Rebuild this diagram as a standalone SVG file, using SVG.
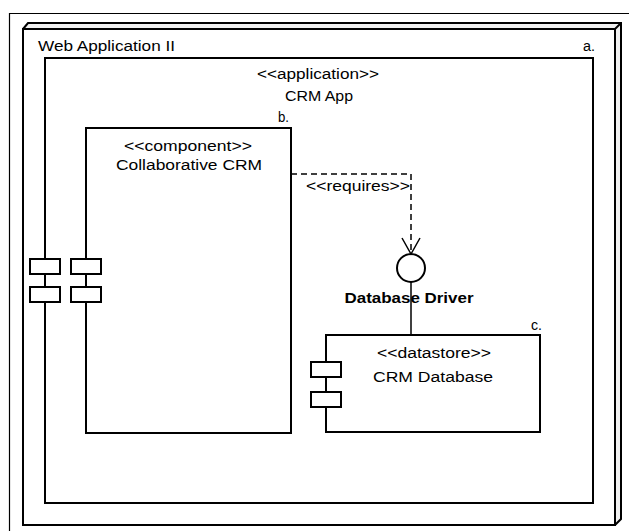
<svg xmlns="http://www.w3.org/2000/svg" width="629" height="531" viewBox="0 0 629 531">
<defs>
<style>
.t{font-family:"Liberation Sans",Arial,sans-serif;font-size:14px;fill:#000}
.b{font-weight:bold}
.box{fill:#fff;stroke:#000;stroke-width:2}
.port{fill:#fff;stroke:#000;stroke-width:2}
.ln{fill:none;stroke:#000;stroke-width:1.5}
</style>
<marker id="open" viewBox="0 0 20 20" refX="18" refY="10" markerWidth="20" markerHeight="20" markerUnits="userSpaceOnUse" orient="auto">
<path d="M2,1 L18,10 L2,19" fill="none" stroke="#000" stroke-width="1.5"/>
</marker>
</defs>
<rect width="629" height="531" fill="#fff"/>
<path d="M9.5,531 V13.5 H629" fill="none" stroke="#000" stroke-width="1.2"/>

<g id="node-a">
<path d="M23,29 L28,23 H621 V519 L615,525" fill="#f0f0f0" stroke="#000" stroke-width="2"/>
<path d="M615,29 L621,23" stroke="#000" stroke-width="2"/>
<rect x="23" y="29" width="592" height="496" class="box"/>
<text class="t" x="38" y="51" textLength="137" lengthAdjust="spacingAndGlyphs">Web Application II</text>
<text class="t" x="583" y="51" textLength="12" lengthAdjust="spacingAndGlyphs">a.</text>
</g>

<g id="node-crm-app">
<rect x="45" y="58" width="548" height="445" class="box"/>
<text class="t" x="318" y="79" text-anchor="middle" textLength="122" lengthAdjust="spacingAndGlyphs">&lt;&lt;application&gt;&gt;</text>
<text class="t" x="319" y="101" text-anchor="middle" textLength="68" lengthAdjust="spacingAndGlyphs">CRM App</text>
<rect x="30" y="259" width="30" height="15" class="port"/>
<rect x="30" y="287" width="30" height="15" class="port"/>
</g>

<g id="node-b">
<rect x="86" y="128" width="205" height="305" class="box"/>
<text class="t" x="278" y="122" textLength="11" lengthAdjust="spacingAndGlyphs">b.</text>
<text class="t" x="188" y="151" text-anchor="middle" textLength="128" lengthAdjust="spacingAndGlyphs">&lt;&lt;component&gt;&gt;</text>
<text class="t" x="189" y="170" text-anchor="middle" textLength="146" lengthAdjust="spacingAndGlyphs">Collaborative CRM</text>
<rect x="71" y="259" width="30" height="15" class="port"/>
<rect x="71" y="287" width="30" height="15" class="port"/>
</g>

<g id="node-c">
<rect x="326" y="335" width="214" height="97" class="box"/>
<text class="t" x="531" y="330" textLength="11" lengthAdjust="spacingAndGlyphs">c.</text>
<text class="t" x="434" y="358" text-anchor="middle" textLength="114" lengthAdjust="spacingAndGlyphs">&lt;&lt;datastore&gt;&gt;</text>
<text class="t" x="433" y="382" text-anchor="middle" textLength="120" lengthAdjust="spacingAndGlyphs">CRM Database</text>
<rect x="311" y="362" width="30" height="15" class="port"/>
<rect x="311" y="392" width="30" height="15" class="port"/>
</g>

<g id="node-interface">
<circle cx="411" cy="268" r="14" fill="#fff" stroke="#000" stroke-width="2"/>
<text class="t b" x="409" y="303" text-anchor="middle" textLength="129" lengthAdjust="spacingAndGlyphs">Database Driver</text>
</g>

<g id="connectors">
<path d="M291,174 H411 V254" class="ln" stroke-dasharray="6,4" marker-end="url(#open)"/>
<path d="M411,282 V335" class="ln"/>
<text class="t" x="306" y="191" textLength="104" lengthAdjust="spacingAndGlyphs">&lt;&lt;requires&gt;&gt;</text>
</g>
</svg>
